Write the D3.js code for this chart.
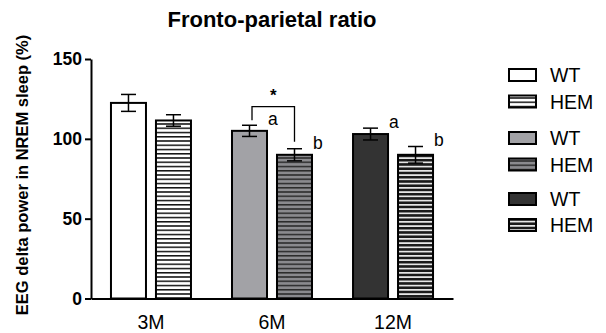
<!DOCTYPE html>
<html>
<head>
<meta charset="utf-8">
<script src="https://cdn.jsdelivr.net/npm/d3@7"></script>
<style>
  html, body { margin: 0; padding: 0; background: #fff; }
  svg { display: block; font-family: "Liberation Sans", Arial, sans-serif; }
</style>
</head>
<body>
<svg id="chart" width="606" height="333"></svg>
<script>
// ---- data ----
const categories = ["3M", "6M", "12M"];
const genotypes = ["WT", "HEM"];
const wtMeans  = [122.5, 105.0, 103.0];
const wtErrors = [5.3, 3.5, 3.7];
const hemMeans  = [111.5, 90.0, 90.0];
const hemErrors = [3.6, 3.8, 5.2];
const wtLetters  = ["", "a", "a"];
const hemLetters = ["", "b", "b"];
const yTicks = [0, 50, 100, 150];
const title = "Fronto-parietal ratio";
const yLabel = "EEG delta power in NREM sleep (%)";

// ---- styles (per category) ----
const wtFill   = ["#ffffff", "#a2a2a6", "#333333"];
const hemBg    = ["#ffffff", "#8a8a8e", "#1a1a1a"];
const hemLine  = ["#111111", "#2a2a2a", "#e6e6e6"];

const svg = d3.select("#chart");

const x0 = d3.scaleBand().domain(categories).range([91, 453])
  .paddingInner(0.339).paddingOuter(0.165);
const x1 = d3.scaleBand().domain(genotypes).range([0, x0.bandwidth()])
  .paddingInner(0.222).paddingOuter(0);
const y = d3.scaleLinear().domain([0, 150]).range([298.5, 59]);

// patterns
const defs = svg.append("defs");
categories.forEach((c, i) => {
  const p = defs.append("pattern").attr("id", "hem" + i)
    .attr("patternUnits", "userSpaceOnUse")
    .attr("width", 6).attr("height", 4.25);
  p.append("rect").attr("width", 6).attr("height", 4.25).attr("fill", hemBg[i]);
  p.append("rect").attr("y", 0).attr("width", 6).attr("height", i === 2 ? 1.7 : 1.5).attr("fill", hemLine[i]);
});

const rows = [];
categories.forEach((c, i) => {
  rows.push({cat: c, i, g: "WT", v: wtMeans[i], e: wtErrors[i], letter: wtLetters[i],
             fill: wtFill[i]});
  rows.push({cat: c, i, g: "HEM", v: hemMeans[i], e: hemErrors[i], letter: hemLetters[i],
             fill: "url(#hem" + i + ")"});
});
const bx = d => x0(d.cat) + x1(d.g);

// title
svg.append("text").attr("x", 272).attr("y", 27).attr("text-anchor", "middle")
  .attr("font-size", 22).attr("font-weight", "bold").text(title);

// y label
svg.append("text").attr("transform", "translate(28,175) rotate(-90)")
  .attr("text-anchor", "middle").attr("font-size", 16.5).attr("font-weight", "bold")
  .text(yLabel);

// bars
svg.append("g").selectAll("rect").data(rows).join("rect")
  .attr("x", d => bx(d)).attr("y", d => y(d.v))
  .attr("width", x1.bandwidth()).attr("height", d => y(0) - y(d.v))
  .attr("fill", d => d.fill).attr("stroke", "#000").attr("stroke-width", 2);

// error bars
const eb = svg.append("g").attr("stroke", "#000").attr("stroke-width", 1.5);
const cap = 7.5;
rows.forEach(d => {
  const cx = bx(d) + x1.bandwidth() / 2;
  eb.append("line").attr("x1", cx).attr("x2", cx).attr("y1", y(d.v + d.e)).attr("y2", y(d.v - d.e));
  eb.append("line").attr("x1", cx - cap).attr("x2", cx + cap).attr("y1", y(d.v + d.e)).attr("y2", y(d.v + d.e));
  eb.append("line").attr("x1", cx - cap).attr("x2", cx + cap).attr("y1", y(d.v - d.e)).attr("y2", y(d.v - d.e));
});

// letters
svg.append("g").selectAll("text").data(rows.filter(d => d.letter)).join("text")
  .attr("x", d => bx(d) + x1.bandwidth() + 1)
  .attr("y", d => y(d.v + d.e))
  .attr("font-size", 17.5).text(d => d.letter);

// significance bracket (6M WT vs HEM)
const r6w = rows[2], r6h = rows[3];
const lx = bx(r6w) + x1.bandwidth() / 2 + 2.5;
const rx = bx(r6h) + x1.bandwidth() / 2;
const topY = 106.7;
svg.append("path")
  .attr("d", `M${lx},${y(r6w.v + r6w.e) - 5}V${topY}H${rx}V${y(r6h.v + r6h.e) - 7}`)
  .attr("fill", "none").attr("stroke", "#000").attr("stroke-width", 1.3);
svg.append("text").attr("x", (lx + rx) / 2).attr("y", 101).attr("text-anchor", "middle")
  .attr("font-size", 17).attr("font-weight", "bold").text("*");

// y axis
const yAxis = svg.append("g").attr("transform", "translate(91,0)")
  .call(d3.axisLeft(y).tickValues(yTicks).tickSize(6).tickSizeOuter(0).tickPadding(3));
yAxis.selectAll("path, line").attr("stroke", "#000").attr("stroke-width", 2);
yAxis.selectAll("text").attr("font-size", 17.5).attr("font-weight", "bold")
  .attr("font-family", "Liberation Sans, Arial, sans-serif").attr("fill", "#000");

// x axis
const xAxis = svg.append("g").attr("transform", `translate(0,${y(0)})`)
  .call(d3.axisBottom(x0).tickSize(0).tickSizeOuter(0).tickPadding(17));
xAxis.select("path").attr("stroke", "#000").attr("stroke-width", 2);
xAxis.selectAll("text").attr("font-size", 19.5)
  .attr("font-family", "Liberation Sans, Arial, sans-serif").attr("fill", "#000");

// legend
const legendY = [75, 101.5, 138, 164.5, 199, 225];
const legendItems = [];
categories.forEach((c, i) => {
  legendItems.push({label: "WT", fill: wtFill[i]});
  legendItems.push({label: "HEM", fill: "url(#hem" + i + ")"});
});
const lg = svg.append("g").selectAll("g").data(legendItems).join("g")
  .attr("transform", (d, k) => `translate(508,${legendY[k]})`);
lg.append("rect").attr("x", 1).attr("y", -6).attr("width", 27).attr("height", 12)
  .attr("fill", d => d.fill).attr("stroke", "#000").attr("stroke-width", 2);
lg.append("text").attr("x", 42).attr("y", 7).attr("font-size", 19.5).text(d => d.label);
</script>
</body>
</html>
